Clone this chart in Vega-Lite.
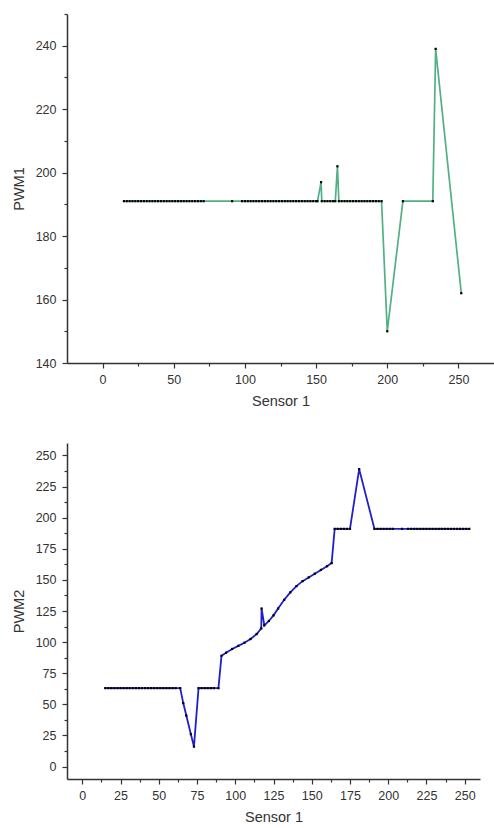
{
  "$schema": "https://vega.github.io/schema/vega-lite/v6.json",
  "padding": {"top": 13, "left": 11, "right": 0, "bottom": 0},
  "spacing": 35,
  "background": "white",
  "config": {
    "view": {"stroke": null},
    "axis": {
      "grid": false,
      "domainColor": "#333333",
      "domainWidth": 1.5,
      "tickColor": "#333333",
      "tickWidth": 1.2,
      "labelFont": "Liberation Sans",
      "labelFontSize": 12.5,
      "labelColor": "#333333",
      "titleFont": "Liberation Sans",
      "titleFontSize": 14.5,
      "titleFontWeight": "normal",
      "titleColor": "#333333"
    }
  },
  "datasets": {
    "pwm1": [
      {"sensor": 15, "pwm": 191}, {"sensor": 17, "pwm": 191}, {"sensor": 19, "pwm": 191}, {"sensor": 21, "pwm": 191},
      {"sensor": 23, "pwm": 191}, {"sensor": 25, "pwm": 191}, {"sensor": 27, "pwm": 191}, {"sensor": 29, "pwm": 191},
      {"sensor": 31, "pwm": 191}, {"sensor": 33, "pwm": 191}, {"sensor": 35, "pwm": 191}, {"sensor": 37, "pwm": 191},
      {"sensor": 39, "pwm": 191}, {"sensor": 41, "pwm": 191}, {"sensor": 43, "pwm": 191}, {"sensor": 45, "pwm": 191},
      {"sensor": 47, "pwm": 191}, {"sensor": 49, "pwm": 191}, {"sensor": 51, "pwm": 191}, {"sensor": 53, "pwm": 191},
      {"sensor": 55, "pwm": 191}, {"sensor": 57, "pwm": 191}, {"sensor": 59, "pwm": 191}, {"sensor": 61, "pwm": 191},
      {"sensor": 63, "pwm": 191}, {"sensor": 65, "pwm": 191}, {"sensor": 67, "pwm": 191}, {"sensor": 69, "pwm": 191},
      {"sensor": 71, "pwm": 191},
      {"sensor": 91, "pwm": 191},
      {"sensor": 98, "pwm": 191}, {"sensor": 100, "pwm": 191}, {"sensor": 102, "pwm": 191}, {"sensor": 104, "pwm": 191},
      {"sensor": 106, "pwm": 191}, {"sensor": 108, "pwm": 191}, {"sensor": 110, "pwm": 191}, {"sensor": 112, "pwm": 191},
      {"sensor": 114, "pwm": 191}, {"sensor": 116, "pwm": 191}, {"sensor": 118, "pwm": 191}, {"sensor": 120, "pwm": 191},
      {"sensor": 122, "pwm": 191}, {"sensor": 124, "pwm": 191}, {"sensor": 126, "pwm": 191}, {"sensor": 128, "pwm": 191},
      {"sensor": 130, "pwm": 191}, {"sensor": 132, "pwm": 191}, {"sensor": 134, "pwm": 191}, {"sensor": 136, "pwm": 191},
      {"sensor": 138, "pwm": 191}, {"sensor": 140, "pwm": 191}, {"sensor": 142, "pwm": 191}, {"sensor": 144, "pwm": 191},
      {"sensor": 146, "pwm": 191}, {"sensor": 148, "pwm": 191}, {"sensor": 150, "pwm": 191}, {"sensor": 151, "pwm": 191},
      {"sensor": 153.5, "pwm": 197}, {"sensor": 154, "pwm": 191},
      {"sensor": 156, "pwm": 191}, {"sensor": 158, "pwm": 191}, {"sensor": 160, "pwm": 191}, {"sensor": 162, "pwm": 191},
      {"sensor": 163.5, "pwm": 191}, {"sensor": 165, "pwm": 202}, {"sensor": 166, "pwm": 191},
      {"sensor": 168, "pwm": 191}, {"sensor": 170, "pwm": 191}, {"sensor": 172, "pwm": 191}, {"sensor": 174, "pwm": 191},
      {"sensor": 176, "pwm": 191}, {"sensor": 178, "pwm": 191}, {"sensor": 180, "pwm": 191}, {"sensor": 182, "pwm": 191},
      {"sensor": 184, "pwm": 191}, {"sensor": 186, "pwm": 191}, {"sensor": 188, "pwm": 191}, {"sensor": 190, "pwm": 191},
      {"sensor": 192, "pwm": 191}, {"sensor": 194, "pwm": 191}, {"sensor": 196, "pwm": 191},
      {"sensor": 200, "pwm": 150}, {"sensor": 211, "pwm": 191}, {"sensor": 232, "pwm": 191},
      {"sensor": 234, "pwm": 239}, {"sensor": 252, "pwm": 162}
    ],
    "pwm2": [
      {"sensor": 15, "pwm": 63}, {"sensor": 17, "pwm": 63}, {"sensor": 19, "pwm": 63}, {"sensor": 21, "pwm": 63},
      {"sensor": 23, "pwm": 63}, {"sensor": 25, "pwm": 63}, {"sensor": 27, "pwm": 63}, {"sensor": 29, "pwm": 63},
      {"sensor": 31, "pwm": 63}, {"sensor": 33, "pwm": 63}, {"sensor": 35, "pwm": 63}, {"sensor": 37, "pwm": 63},
      {"sensor": 39, "pwm": 63}, {"sensor": 41, "pwm": 63}, {"sensor": 43, "pwm": 63}, {"sensor": 45, "pwm": 63},
      {"sensor": 47, "pwm": 63}, {"sensor": 49, "pwm": 63}, {"sensor": 51, "pwm": 63}, {"sensor": 53, "pwm": 63},
      {"sensor": 55, "pwm": 63}, {"sensor": 57, "pwm": 63}, {"sensor": 59, "pwm": 63}, {"sensor": 61, "pwm": 63},
      {"sensor": 64, "pwm": 63},
      {"sensor": 66, "pwm": 51}, {"sensor": 68, "pwm": 41}, {"sensor": 71, "pwm": 26}, {"sensor": 73, "pwm": 16},
      {"sensor": 76, "pwm": 63}, {"sensor": 78, "pwm": 63}, {"sensor": 80, "pwm": 63}, {"sensor": 82, "pwm": 63},
      {"sensor": 84, "pwm": 63}, {"sensor": 86, "pwm": 63}, {"sensor": 89, "pwm": 63},
      {"sensor": 91, "pwm": 89}, {"sensor": 94, "pwm": 91.5}, {"sensor": 98, "pwm": 94.5}, {"sensor": 102, "pwm": 97},
      {"sensor": 106, "pwm": 99.5}, {"sensor": 110, "pwm": 102.5}, {"sensor": 114, "pwm": 106.5}, {"sensor": 117, "pwm": 111},
      {"sensor": 117.2, "pwm": 127}, {"sensor": 119, "pwm": 113.5},
      {"sensor": 122, "pwm": 117}, {"sensor": 125, "pwm": 121.5}, {"sensor": 128, "pwm": 127}, {"sensor": 132, "pwm": 134},
      {"sensor": 136, "pwm": 140}, {"sensor": 140, "pwm": 145}, {"sensor": 144, "pwm": 149}, {"sensor": 148, "pwm": 152},
      {"sensor": 152, "pwm": 155}, {"sensor": 156, "pwm": 158}, {"sensor": 160, "pwm": 161}, {"sensor": 163, "pwm": 163.5},
      {"sensor": 165, "pwm": 191}, {"sensor": 167, "pwm": 191}, {"sensor": 169, "pwm": 191}, {"sensor": 171, "pwm": 191},
      {"sensor": 173, "pwm": 191}, {"sensor": 175, "pwm": 191},
      {"sensor": 181, "pwm": 239},
      {"sensor": 191, "pwm": 191}, {"sensor": 193, "pwm": 191}, {"sensor": 195, "pwm": 191}, {"sensor": 197, "pwm": 191},
      {"sensor": 199, "pwm": 191}, {"sensor": 201, "pwm": 191}, {"sensor": 203, "pwm": 191},
      {"sensor": 209, "pwm": 191},
      {"sensor": 213, "pwm": 191}, {"sensor": 215, "pwm": 191}, {"sensor": 217, "pwm": 191}, {"sensor": 219, "pwm": 191},
      {"sensor": 221, "pwm": 191}, {"sensor": 223, "pwm": 191}, {"sensor": 225, "pwm": 191}, {"sensor": 227, "pwm": 191},
      {"sensor": 229, "pwm": 191}, {"sensor": 231, "pwm": 191}, {"sensor": 233, "pwm": 191}, {"sensor": 235, "pwm": 191},
      {"sensor": 237, "pwm": 191}, {"sensor": 239, "pwm": 191}, {"sensor": 241, "pwm": 191}, {"sensor": 243, "pwm": 191},
      {"sensor": 245, "pwm": 191}, {"sensor": 247, "pwm": 191}, {"sensor": 249, "pwm": 191}, {"sensor": 251, "pwm": 191},
      {"sensor": 253, "pwm": 191}
    ]
  },
  "vconcat": [
    {
      "width": 427,
      "height": 349,
      "data": {"name": "pwm1"},
      "layer": [
        {
          "mark": {"type": "line", "color": "#52b084", "strokeWidth": 1.7},
          "encoding": {
            "x": {"field": "sensor", "type": "quantitative", "sort": null,
              "scale": {"domain": [-25, 275], "nice": false, "zero": false},
              "axis": {"title": "Sensor 1", "orient": "bottom", "values": [0, 50, 100, 150, 200, 250], "tickSize": 5, "labelPadding": 5, "titlePadding": 9}},
            "y": {"field": "pwm", "type": "quantitative",
              "scale": {"domain": [140, 250], "nice": false, "zero": false},
              "axis": {"title": "PWM1", "orient": "left", "values": [140, 160, 180, 200, 220, 240], "tickSize": 5, "labelPadding": 6, "titlePadding": 9}}
          }
        },
        {
          "mark": {"type": "square", "color": "black", "size": 5, "opacity": 1},
          "encoding": {
            "x": {"field": "sensor", "type": "quantitative",
              "axis": {"orient": "bottom", "values": [25, 75, 125, 175, 225], "tickSize": 3, "labels": false, "domain": false, "title": null}},
            "y": {"field": "pwm", "type": "quantitative",
              "axis": {"orient": "left", "values": [150, 170, 190, 210, 230, 250], "tickSize": 3, "labels": false, "domain": false, "title": null}}
          }
        }
      ],
      "resolve": {"axis": {"x": "independent", "y": "independent"}}
    },
    {
      "width": 413,
      "height": 336,
      "data": {"name": "pwm2"},
      "layer": [
        {
          "mark": {"type": "line", "color": "#1f1fd0", "strokeWidth": 1.8},
          "encoding": {
            "x": {"field": "sensor", "type": "quantitative", "sort": null,
              "scale": {"domain": [-10, 260], "nice": false, "zero": false},
              "axis": {"title": "Sensor 1", "orient": "bottom", "values": [0, 25, 50, 75, 100, 125, 150, 175, 200, 225, 250], "tickSize": 5, "labelPadding": 5, "titlePadding": 9}},
            "y": {"field": "pwm", "type": "quantitative",
              "scale": {"domain": [-10, 260], "nice": false, "zero": false},
              "axis": {"title": "PWM2", "orient": "left", "values": [0, 25, 50, 75, 100, 125, 150, 175, 200, 225, 250], "tickSize": 5, "labelPadding": 6, "titlePadding": 9}}
          }
        },
        {
          "mark": {"type": "square", "color": "black", "size": 5, "opacity": 1},
          "encoding": {
            "x": {"field": "sensor", "type": "quantitative",
              "axis": {"orient": "bottom", "values": [12.5, 37.5, 62.5, 87.5, 112.5, 137.5, 162.5, 187.5, 212.5, 237.5], "tickSize": 3, "labels": false, "domain": false, "title": null}},
            "y": {"field": "pwm", "type": "quantitative",
              "axis": {"orient": "left", "values": [12.5, 37.5, 62.5, 87.5, 112.5, 137.5, 162.5, 187.5, 212.5, 237.5], "tickSize": 3, "labels": false, "domain": false, "title": null}}
          }
        }
      ],
      "resolve": {"axis": {"x": "independent", "y": "independent"}}
    }
  ]
}
